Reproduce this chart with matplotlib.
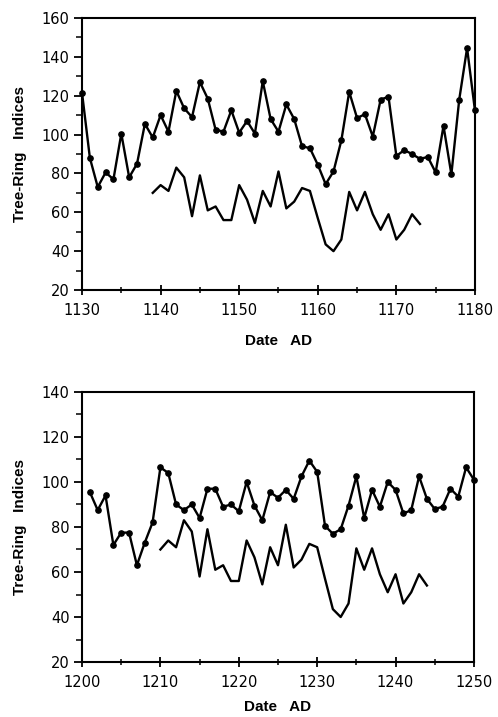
import matplotlib
matplotlib.use('Agg')
import matplotlib.pyplot as plt
from matplotlib.ticker import MultipleLocator

plt.rcParams['font.family'] = ['Liberation Sans', 'DejaVu Sans']

# serie com pontos, painel de cima (1130-1180)
anos_cima = list(range(1130, 1181))
indices_cima = [121.5, 88, 73, 80.5, 77, 100.5, 78, 85, 105.5, 98.5,
                110, 101.5, 122.5, 113.5, 109, 127, 118.5, 102.5, 101.5, 112.5,
                101, 107, 100.5, 127.5, 108, 101.5, 115.5, 108, 94, 93,
                84.5, 74.5, 81, 97, 122, 108.5, 110.5, 99, 118, 119.5,
                89, 92, 90, 87.5, 88.5, 80.5, 104.5, 79.5, 118, 144.5,
                112.5]

# serie com pontos, painel de baixo (1201-1250)
anos_baixo = list(range(1201, 1251))
indices_baixo = [95.5, 87.5, 94, 72, 77.5, 77.5, 63, 73, 82, 106.5,
                 104, 90, 87.5, 90, 84, 97, 97, 89, 90, 87,
                 100, 89.5, 83, 95.5, 93, 96.5, 92.5, 102.5, 109.5, 104.5,
                 80.5, 77, 79, 89.5, 102.5, 84, 96.5, 89, 100, 96.5,
                 86, 87.5, 102.5, 92.5, 88, 89, 97, 93.5, 106.5, 101]

# serie de referencia (sem pontos), a mesma nos dois paineis
referencia = [70, 74, 71, 83, 78, 58, 79, 61, 63, 56,
              56, 74, 66.5, 54.5, 71, 63, 81, 62, 65.5, 72.5,
              71, 57, 43.5, 40, 46, 70.5, 61, 70.5, 59, 51,
              59, 46, 51, 59, 54]
ref_inicio_cima = 1139
ref_inicio_baixo = 1210

fig = plt.figure(figsize=(4.98, 7.17), dpi=100)
ax1 = fig.add_axes([0.1647, 0.5955, 0.789, 0.3794])
ax2 = fig.add_axes([0.1647, 0.0767, 0.787, 0.3766])

paineis = [
    (ax1, anos_cima, indices_cima, ref_inicio_cima, (1130, 1180), (20, 160)),
    (ax2, anos_baixo, indices_baixo, ref_inicio_baixo, (1200, 1250), (20, 140)),
]

for ax, anos, indices, ref_inicio, xlim, ylim in paineis:
    anos_ref = list(range(ref_inicio, ref_inicio + len(referencia)))
    ax.plot(anos, indices, color='black', linewidth=1.7,
            marker='o', markersize=3.8, clip_on=False)
    ax.plot(anos_ref, referencia, color='black', linewidth=1.7)
    ax.set_xlim(*xlim)
    ax.set_ylim(*ylim)
    ax.xaxis.set_major_locator(MultipleLocator(10))
    ax.xaxis.set_minor_locator(MultipleLocator(5))
    ax.yaxis.set_major_locator(MultipleLocator(20))
    ax.yaxis.set_minor_locator(MultipleLocator(10))
    ax.tick_params(axis='x', which='major', direction='inout', length=7,
                   width=1.3, labelsize=10.5, pad=6)
    ax.tick_params(axis='x', which='minor', direction='inout', length=5, width=1.1)
    ax.tick_params(axis='y', which='major', direction='out', length=6,
                   width=1.3, labelsize=10.5, pad=3)
    ax.tick_params(axis='y', which='minor', direction='out', length=4, width=1.1)
    for lbl in ax.get_xticklabels() + ax.get_yticklabels():
        lbl.set_family('DejaVu Sans')
    for s in ax.spines.values():
        s.set_linewidth(1.5)
    ax.set_xlabel('Date   AD', fontsize=11, fontweight='bold')
    ax.set_ylabel('Tree-Ring   Indices', fontsize=11, fontweight='bold')
    ax.yaxis.set_label_coords(-0.14, 0.5)

ax1.xaxis.set_label_coords(0.5, -0.162)
ax2.xaxis.set_label_coords(0.5, -0.141)

plt.savefig('out.png', dpi=100)
